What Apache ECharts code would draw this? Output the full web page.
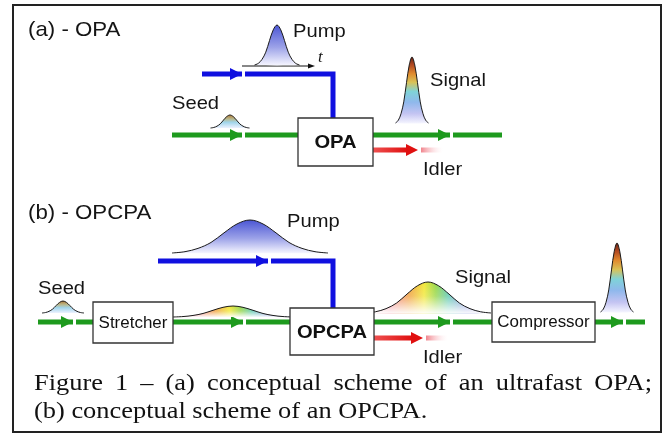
<!DOCTYPE html>
<html>
<head>
<meta charset="utf-8">
<title>OPA / OPCPA scheme</title>
<script src="https://cdn.jsdelivr.net/npm/echarts@6/dist/echarts.min.js"></script>
<style>
  html, body { margin: 0; padding: 0; background: #fff; }
  #chart { width: 670px; height: 435px; }
</style>
</head>
<body>
<div id="chart"></div>
<script>
// bell shape: [offset in widths, relative height]
const bellProfile = [[-3, 0], [-2.5, 0.04], [-2, 0.14], [-1.5, 0.32], [-1, 0.61], [-0.5, 0.88], [0, 1],
  [0.5, 0.88], [1, 0.61], [1.5, 0.32], [2, 0.14], [2.5, 0.04], [3, 0]];

// pulses (figure pixels)
const pulseCentre = [277, 230, 412, 63, 250, 233, 428, 617];
const pulseBase = [65, 128, 123, 313, 253, 317, 313, 312];
const pulsePeak = [25, 115, 57, 301, 220, 306, 282, 243];
const pulseWidth = [7.5, 6.5, 5.5, 7, 26, 20, 21, 5.5];
const pulseKind = ['pump', 'seed', 'short', 'seed', 'pump', 'chirp', 'chirp', 'short'];

// beams
const beamPaths = [
  [[202, 74], [333, 74], [333, 118]],
  [[172, 135], [298, 135]],
  [[373, 135], [502, 135]],
  [[158, 261], [333, 261], [333, 308]],
  [[38, 322], [93, 322]],
  [[173, 322], [290, 322]],
  [[374, 322], [492, 322]],
  [[595, 322], [645, 322]]
];
const beamKind = ['blue', 'green', 'green', 'blue', 'green', 'green', 'green', 'green'];

// idlers: solid part, then faded tail
const idlerSolid = [[[373, 150], [407, 150]], [[374, 338], [412, 338]]];
const idlerTail = [[[421, 150], [443, 150]], [[426, 338], [448, 338]]];

// arrow tips on the beams
const arrowTips = [[242, 74], [242, 135], [450, 135], [418, 150], [73, 322], [243, 322], [268, 261], [450, 322], [423, 338], [623, 322]];
const arrowKind = ['blue', 'green', 'green', 'red', 'green', 'green', 'blue', 'green', 'red', 'green'];

// time axis under the (a) pump pulse
const timeAxis = [[242, 66], [315, 66]];

// boxes
const boxNames = ['OPA', 'Stretcher', 'OPCPA', 'Compressor'];
const boxCorners = [[298, 118, 373, 166], [93, 302, 173, 343], [290, 308, 374, 355], [492, 302, 595, 342]];
const boxBold = [true, false, true, false];

// labels
const labelTexts = ['(a) - OPA', 'Pump', 't', 'Seed', 'Signal', 'Idler', '(b) - OPCPA', 'Pump', 'Seed', 'Signal', 'Idler'];
const labelAnchors = [[28, 30], [293, 32], [318, 58], [172, 104], [430, 81], [423, 170], [28, 213], [287, 222], [38, 289], [455, 278], [423, 358]];
const labelKind = ['title', 'beam', 'axis', 'beam', 'beam', 'beam', 'title', 'beam', 'beam', 'beam', 'beam'];

const captionLine1 = ['Figure', '1', '–', '(a)', 'conceptual', 'scheme', 'of', 'an', 'ultrafast', 'OPA;'];
const captionLine2 = '(b) conceptual scheme of an OPCPA.';

const TEXT_STRETCH = 1.06; // the scan is a little wider than tall
const SANS = '"Liberation Sans", Arial, sans-serif';
const SERIF = '"Liberation Serif", "Times New Roman", serif';

const colours = { blue: '#1010e0', green: '#1e9a1e', red: '#e01010' };
const labelFonts = {
  title: '21px ' + SANS,
  beam: '19px ' + SANS,
  axis: 'italic 16px ' + SERIF
};

function grad(vertical, stops) {
  return new echarts.graphic.LinearGradient(0, 0, vertical ? 0 : 1, vertical ? 1 : 0,
    stops.map(s => ({ offset: s[0], color: s[1] })));
}

const pulseFills = {
  pump: () => grad(true, [[0, '#4b56d4'], [0.55, '#9ca2e8'], [1, '#f6f6ff']]),
  seed: () => grad(true, [[0, '#b07a36'], [0.3, '#b9b88c'], [0.55, '#9fd4ea'], [1, '#eef2ff']]),
  short: () => grad(true, [[0, '#6b2616'], [0.12, '#b34a22'], [0.25, '#e08a2e'], [0.38, '#d9c257'],
    [0.52, '#7fd3d8'], [0.68, '#8fb8ec'], [0.85, '#c4c4f2'], [1, '#f6f6ff']]),
  chirp: () => grad(false, [[0, '#ffffff'], [0.2, '#f07080'], [0.35, '#f0a040'], [0.47, '#f2e83a'],
    [0.56, '#9ad84a'], [0.66, '#5cc8b0'], [0.8, '#7080d8'], [1, '#a0a0c8']])
};

function renderPulse(params, api) {
  const i = params.dataIndex;
  const h = pulseBase[i] - pulsePeak[i];
  const pts = bellProfile.map(p => api.coord([pulseCentre[i] + p[0] * pulseWidth[i], pulseBase[i] - p[1] * h]));
  const children = [{ type: 'polygon', shape: { points: pts, smooth: 0.35 }, style: { fill: pulseFills[pulseKind[i]]() } }];
  if (pulseKind[i] === 'chirp') {
    children.push({
      type: 'polygon', shape: { points: pts, smooth: 0.35 },
      style: { fill: grad(true, [[0, 'rgba(255,255,255,0)'], [0.45, 'rgba(255,255,255,0.2)'], [1, 'rgba(255,255,255,0.95)']]) }
    });
  }
  children.push({ type: 'polyline', shape: { points: pts, smooth: 0.35 }, style: { stroke: '#1a1a1a', lineWidth: 1, fill: null } });
  return { type: 'group', children };
}

function renderBeam(params, api) {
  const i = params.dataIndex;
  return {
    type: 'polyline',
    shape: { points: beamPaths[i].map(p => api.coord(p)) },
    style: { stroke: colours[beamKind[i]], lineWidth: 5, fill: null, lineJoin: 'miter' }
  };
}

function renderIdler(params, api) {
  const i = params.dataIndex;
  const a = idlerSolid[i].map(p => api.coord(p));
  const b = idlerTail[i].map(p => api.coord(p));
  return {
    type: 'group',
    children: [
      { type: 'polyline', shape: { points: a },
        style: { lineWidth: 5, fill: null,
          stroke: new echarts.graphic.LinearGradient(a[0][0], 0, a[1][0], 0,
            [{ offset: 0, color: '#ee5050' }, { offset: 1, color: '#e01010' }], true) } },
      { type: 'polyline', shape: { points: b },
        style: { lineWidth: 5, fill: null,
          stroke: new echarts.graphic.LinearGradient(b[0][0], 0, b[1][0], 0,
            [{ offset: 0, color: 'rgba(238,110,120,0.85)' }, { offset: 1, color: 'rgba(255,235,240,0)' }], true) } }
    ]
  };
}

function renderArrow(params, api) {
  const i = params.dataIndex;
  const t = api.coord(arrowTips[i]);
  return {
    type: 'group',
    children: [
      { type: 'rect', shape: { x: t[0], y: t[1] - 3.5, width: 3, height: 7 }, style: { fill: '#fff' } },
      { type: 'polygon', shape: { points: [[t[0], t[1]], [t[0] - 12, t[1] - 6], [t[0] - 12, t[1] + 6]] },
        style: { fill: colours[arrowKind[i]] } }
    ]
  };
}

function renderTimeAxis(params, api) {
  const a = api.coord(timeAxis[0]);
  const b = api.coord(timeAxis[1]);
  return {
    type: 'group',
    children: [
      { type: 'line', shape: { x1: a[0], y1: a[1], x2: b[0] - 4, y2: b[1] }, style: { stroke: '#111', lineWidth: 1 } },
      { type: 'polygon', shape: { points: [[b[0], b[1]], [b[0] - 7, b[1] - 2.5], [b[0] - 7, b[1] + 2.5]] }, style: { fill: '#111' } }
    ]
  };
}

function renderBox(params, api) {
  const i = params.dataIndex;
  const c = boxCorners[i];
  const p0 = api.coord([c[0], c[1]]);
  const p1 = api.coord([c[2], c[3]]);
  return {
    type: 'group',
    children: [
      { type: 'rect', shape: { x: p0[0], y: p0[1], width: p1[0] - p0[0], height: p1[1] - p0[1] },
        style: { fill: '#fff', stroke: '#333', lineWidth: 1.3 } },
      { type: 'text', x: (p0[0] + p1[0]) / 2, y: (p0[1] + p1[1]) / 2 + 1, scaleX: TEXT_STRETCH,
        style: { text: boxNames[i], font: (boxBold[i] ? 'bold 19px ' : '16px ') + SANS, fill: '#111',
          align: 'center', verticalAlign: 'middle', textAlign: 'center', textVerticalAlign: 'middle' } }
    ]
  };
}

function renderLabel(params, api) {
  const i = params.dataIndex;
  const p = api.coord(labelAnchors[i]);
  return {
    type: 'text', x: p[0], y: p[1], scaleX: TEXT_STRETCH,
    style: { text: labelTexts[i], font: labelFonts[labelKind[i]], fill: '#151515',
      align: 'left', verticalAlign: 'middle', textAlign: 'left', textVerticalAlign: 'middle' }
  };
}

// caption: first line justified between the margins, second line left aligned
const measureCtx = document.createElement('canvas').getContext('2d');
const captionFont = '24px ' + SERIF;
const captionStretch = 1.1;
measureCtx.font = captionFont;
const captionLeft = 34;
const captionRight = 652;
const wordWidths = captionLine1.map(w => measureCtx.measureText(w).width * captionStretch);
const gap = (captionRight - captionLeft - wordWidths.reduce((s, w) => s + w, 0)) / (captionLine1.length - 1);
const captionGraphics = [];
let cx = captionLeft;
captionLine1.forEach((w, i) => {
  captionGraphics.push({ type: 'text', x: cx, y: 384, scaleX: captionStretch,
    style: { text: w, font: captionFont, fill: '#111', align: 'left', verticalAlign: 'middle', textAlign: 'left', textVerticalAlign: 'middle' } });
  cx += wordWidths[i] + gap;
});
captionGraphics.push({ type: 'text', x: captionLeft, y: 412, scaleX: captionStretch,
  style: { text: captionLine2, font: captionFont, fill: '#111', align: 'left', verticalAlign: 'middle', textAlign: 'left', textVerticalAlign: 'middle' } });

const chart = echarts.init(document.getElementById('chart'));

const custom = (name, renderItem, data, z) => ({
  type: 'custom', name, renderItem, data, z, clip: false, silent: true, animation: false
});

chart.setOption({
  animation: false,
  backgroundColor: '#fff',
  grid: { left: 0, right: 0, top: 0, bottom: 0 },
  xAxis: { type: 'value', min: 0, max: 670, show: false },
  yAxis: { type: 'value', min: 0, max: 435, inverse: true, show: false },
  graphic: [
    { type: 'rect', shape: { x: 13, y: 5, width: 648, height: 427 }, style: { fill: null, stroke: '#222', lineWidth: 2 } },
    ...captionGraphics
  ],
  series: [
    custom('beams', renderBeam, beamPaths.map(p => p[0]), 2),
    custom('idlers', renderIdler, idlerSolid.map(p => p[0]), 2),
    custom('arrows', renderArrow, arrowTips, 3),
    custom('time axis', renderTimeAxis, [timeAxis[0]], 3),
    custom('pulses', renderPulse, pulseCentre.map((c, i) => [c, pulseBase[i]]), 4),
    custom('boxes', renderBox, boxCorners.map(c => [c[0], c[1]]), 5),
    custom('labels', renderLabel, labelAnchors, 6)
  ]
});

window.addEventListener('resize', () => chart.resize());
</script>
</body>
</html>
